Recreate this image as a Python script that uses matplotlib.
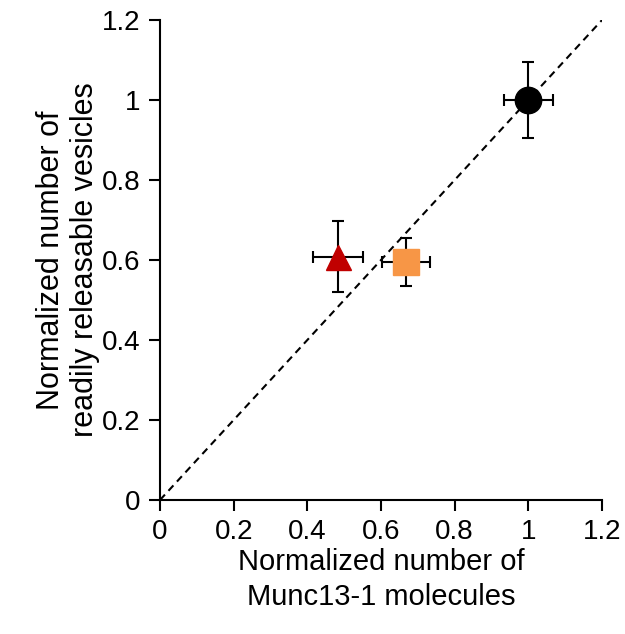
import numpy as np
from matplotlib import pyplot as plt

plt.rcParams['font.family'] = ['Liberation Sans', 'DejaVu Sans']

# normalized Munc13-1 molecules (x) vs readily releasable vesicles (y)
x_vals = [1.0, 0.483, 0.667]
y_vals = [1.0, 0.608, 0.594]
x_err = [0.067, 0.067, 0.065]
y_err = [0.094, 0.089, 0.060]
markers = ['o', '^', 's']
colors = ['black', '#C00000', '#F79646']
sizes = [19, 18, 19]

ticks = [0, 0.2, 0.4, 0.6, 0.8, 1, 1.2]
tick_labels = ['0', '0.2', '0.4', '0.6', '0.8', '1', '1.2']

fig = plt.figure(figsize=(6.25, 6.34), dpi=100)
ax = fig.add_axes([0.256, 0.2114, 0.7072, 0.757])

# unity line
ax.plot([0, 1.2], [0, 1.2], color='black', linestyle=(0, (3.5, 2.5)), linewidth=1.5, zorder=1)

for x, y, xe, ye, m, c, s in zip(x_vals, y_vals, x_err, y_err, markers, colors, sizes):
    ax.errorbar(x, y, xerr=xe, yerr=ye, fmt='none', ecolor='black',
                elinewidth=1.5, capsize=4, capthick=1.5, zorder=2)
    ax.plot(x, y, marker=m, color=c, markersize=s, linestyle='none', zorder=3)

ax.set_xlim(0, 1.2) ; ax.set_ylim(0, 1.2)
ax.set_xticks(ticks) ; ax.set_xticklabels(tick_labels)
ax.set_yticks(ticks) ; ax.set_yticklabels(tick_labels)
ax.tick_params(direction='out', length=8, width=1.5, labelsize=20)
ax.tick_params(axis='x', pad=6)
ax.tick_params(axis='y', pad=6)
for side in ['top', 'right']:
    ax.spines[side].set_visible(False)
for side in ['left', 'bottom']:
    ax.spines[side].set_linewidth(1.5)

ax.set_xlabel('Normalized number of\nMunc13-1 molecules', fontsize=21, linespacing=1.3)
ax.set_ylabel('Normalized number of\nreadily releasable vesicles', fontsize=22, linespacing=1.2)
ax.xaxis.set_label_coords(0.5, -0.1)
ax.yaxis.set_label_coords(-0.135, 0.5)

fig.savefig('out.png', dpi=100)
